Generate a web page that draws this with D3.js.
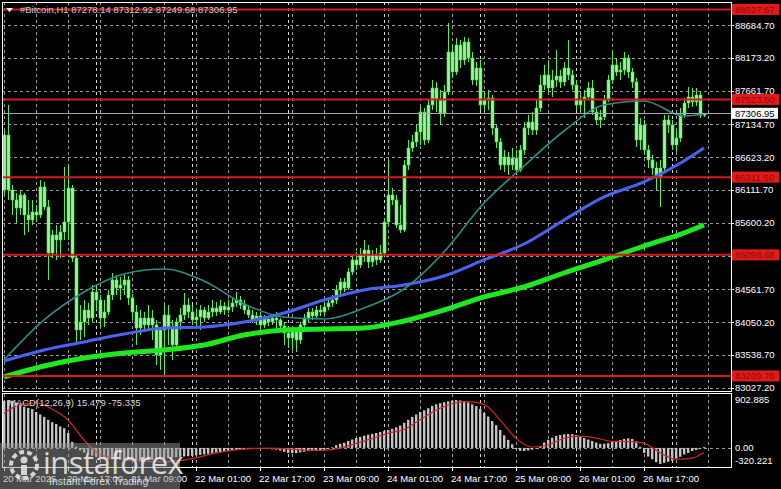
<!DOCTYPE html>
<html><head><meta charset="utf-8">
<script src="https://cdn.jsdelivr.net/npm/d3@7"></script>
<style>html,body{margin:0;padding:0;background:#000;overflow:hidden}svg{display:block}</style>
</head><body>
<svg id="c" width="781" height="489"></svg>
<script>
// ---------- DATA ----------
const chartTitle = "#Bitcoin,H1  87278.14 87312.92 87249.68 87306.95";
const macdTitle = "MACD(12,26,9) 15.479 -75.335";

const opens = [86111,86969,86111,85955,85830,86033,85721,85643,85768,85721,
86158,85846,85128,85409,85331,85456,85612,86142,85050,83927,
84052,84239,84114,84520,84395,84114,84208,84473,84707,84582,
84629,84707,84426,84208,83958,84114,84005,84114,84005,83537,
83927,84161,83974,83693,84052,84161,84317,84208,84083,84130,
84239,84114,84208,84270,84208,84301,84239,84286,84348,84395,
84317,84239,84161,84083,84145,84005,84099,84052,84114,84083,
83989,83880,83802,83896,83771,84005,84114,84208,84145,84239,
84208,84286,84348,84395,84551,84676,84582,84832,85019,84941,
85097,85175,84988,85097,85019,85128,85612,86033,85955,85565,
85487,86501,86766,86860,87016,87328,86891,87437,87702,87515,
87312,87640,88264,87952,88373,88139,88420,88170,87827,88014,
87437,87515,87546,87078,86860,86501,86626,86501,86610,86423,
86735,87078,87172,87047,87390,87749,87905,87702,87827,87889,
87796,88014,87905,87749,87437,87515,87562,87702,87328,87203,
87250,87515,87827,88061,87952,87983,88170,87952,87796,86891,
87125,86735,86579,86454,86298,86454,87203,87125,86813,86922,
87281,87468,87562,87484,87593,87278.14];

const closes = [86969,86111,85955,85830,86033,85721,85643,85768,85721,86158,
85846,85128,85409,85331,85456,85612,86142,85050,83927,84052,
84239,84114,84520,84395,84114,84208,84473,84707,84582,84629,
84707,84426,84208,83958,84114,84005,84114,84005,83537,83927,
84161,83974,83693,84052,84161,84317,84208,84083,84130,84239,
84114,84208,84270,84208,84301,84239,84286,84348,84395,84317,
84239,84161,84083,84145,84005,84099,84052,84114,84083,83989,
83880,83802,83896,83771,84005,84114,84208,84145,84239,84208,
84286,84348,84395,84551,84676,84582,84832,85019,84941,85097,
85175,84988,85097,85019,85128,85612,86033,85955,85565,85487,
86501,86766,86860,87016,87328,86891,87437,87702,87515,87312,
87640,88264,87952,88373,88139,88420,88170,87827,88014,87437,
87515,87546,87078,86860,86501,86626,86501,86610,86423,86735,
87078,87172,87047,87390,87749,87905,87702,87827,87889,87796,
88014,87905,87749,87437,87515,87562,87702,87328,87203,87250,
87515,87827,88061,87952,87983,88170,87952,87796,86891,87125,
86735,86579,86454,86298,86454,87203,87125,86813,86922,87281,
87468,87562,87484,87593,87278,87306.95];

const highs = [87047,87437,86189,86064,86111,86064,85955,85955,85877,86267,
86236,85955,85487,85565,85565,86470,86501,86189,85097,84317,
84395,84348,84629,84598,84473,84395,84551,84816,84785,84754,
84785,84769,84489,84317,84239,84208,84317,84239,84083,83958,
84317,84317,84083,84114,84270,84504,84426,84317,84239,84317,
84286,84317,84395,84364,84395,84364,84395,84426,84520,84457,
84395,84317,84239,84208,84208,84161,84145,84177,84208,84114,
84052,83958,83989,83958,84052,84177,84270,84270,84301,84317,
84364,84426,84473,84629,84738,84738,84894,85097,85144,85206,
85331,85253,85175,85206,85253,85674,86579,86142,86033,85877,
86579,86891,86969,87125,87437,87390,87515,87827,87796,87671,
87749,88716,88373,88482,88451,88498,88482,88264,88108,88139,
87640,87671,87593,87125,86922,86735,86704,86766,86735,86813,
87172,87281,87328,87515,87905,88061,88139,87983,88295,87983,
88108,88451,87983,87827,87593,87671,87796,87827,87390,87359,
87593,87905,88295,88170,88108,88264,88217,88014,87858,87234,
87203,86813,86657,86548,86579,87281,87281,87203,87047,87390,
87546,87718,87702,87702,87640,87312.92];

const lows = [86033,85955,85721,85596,85721,85409,85456,85565,85612,85674,
85799,84707,85050,85019,85050,85331,85331,84988,83740,83771,
83818,84005,84052,84239,83958,83974,84161,84395,84473,84395,
84473,84317,84083,83693,83849,83896,83927,83771,83381,83303,
83225,83693,83459,83615,83927,84083,84114,84005,83989,83927,
84052,84083,84130,84145,84177,84161,84192,84208,84286,84255,
84177,84114,84036,84005,83927,83958,83989,84005,83958,83927,
83693,83646,83615,83584,83709,83958,84052,84083,84114,84145,
84161,84239,84286,84333,84473,84520,84551,84785,84863,84894,
84988,84894,84910,84941,84972,85081,85565,85877,85518,85440,
85456,86423,86704,86782,86813,86813,86844,87359,87328,87125,
87250,87593,87858,87905,88014,88061,88108,87749,87733,87359,
87328,87359,86969,86766,86423,86392,86345,86423,86345,86392,
86657,86969,86969,86969,87328,87671,87640,87562,87718,87702,
87733,87827,87671,87359,87328,87234,87515,87281,87125,87078,
87203,87484,87765,87889,87827,87905,87858,87702,86782,86735,
86657,86454,86345,86111,85846,86392,87000,86735,86704,86860,
87234,87390,87406,87421,87234,87249.68];

// moving averages, read at sampled bars
const maBars = [0,10,20,30,40,50,60,70,80,90,100,110,120,130,140,150,160,170,175];
const maFast = [83459,84083,84520,84800,84878,84691,84333,84130,84099,84270,84566,85144,85908,86485,87031,87437,87499,87265,87296];
const maMid  = [83443,83615,83740,83864,83958,83974,84052,84192,84395,84551,84629,84769,85019,85268,85643,86002,86236,86564,86766];
const maSlow = [83194,83365,83490,83568,83615,83693,83849,83927,83942,83958,84067,84239,84442,84598,84816,85019,85237,85440,85565];

// MACD histogram (one per bar) and signal line (sampled)
const macdHist = [790,800,790,760,720,690,670,650,600,560,
520,470,430,400,360,330,250,100,20,-40,
-80,-110,-130,-150,-165,-175,-185,-190,-195,-200,
-205,-210,-210,-215,-215,-210,-205,-200,-195,-190,
-180,-170,-160,-155,-150,-145,-140,-135,-125,-118,
-110,-100,-90,-80,-75,-65,-55,-45,-35,-30,
-25,-20,-18,-15,-15,-18,-20,-25,-30,-45,
-65,-85,-90,-88,-75,-65,-55,-50,-45,-38,
-30,-15,10,45,70,85,115,140,165,185,
205,220,235,250,265,280,300,320,345,375,
420,470,520,560,600,630,665,705,730,748,
765,780,793,800,795,785,760,730,700,650,
590,525,450,380,300,210,135,60,-20,-50,
-52,-45,-30,-10,35,90,135,170,200,215,
228,233,230,215,190,165,140,115,90,68,
70,80,100,118,132,150,160,150,110,20,
-85,-145,-190,-240,-268,-250,-232,-215,-180,-150,
-110,-85,-55,-35,-12,15.479];
const signalBars = [0,4,8,12,16,20,24,28,32,36,40,44,48,52,56,60,64,68,72,76,80,84,88,92,96,100,104,108,112,116,120,124,128,132,136,140,144,148,152,156,160,164,168,172,175];
const signalValues = [580,725,755,650,467,132,-110,-170,-210,-228,-232,-215,-165,-100,-50,-20,-8,-8,-22,-40,-40,-5,75,155,245,310,470,630,740,775,730,470,160,15,49,161,198,165,110,104,77,-80,-190,-170,-75.335];

// axes
const priceTicks = [88684.70,88173.20,87661.70,87134.70,86623.20,86111.70,85600.20,85088.70,84561.70,84050.20,83538.70,83027.20];
const priceTickLabels = ["88684.70","88173.20","87661.70","87134.70","86623.20","86111.70","85600.20","85088.70","84561.70","84050.20","83538.70","83027.20"];
const levels = [88927.67,87523.50,86311.50,85098.68,83209.76];
const levelLabels = ["88927.67","87523.50","86311.50","85098.68","83209.76"];
const currentPrice = 87306.95;
const macdTicks = [902.885,0,-320.221];
const macdTickLabels = ["902.885","0.00","-320.221"];
const timeTickBars = [0,16,32,48,64,80,96,112,128,144,160];
const timeLabels = ["20 Mar 2025","20 Mar 17:00","21 Mar 09:00","22 Mar 01:00","22 Mar 17:00","23 Mar 09:00","24 Mar 01:00","24 Mar 17:00","25 Mar 09:00","26 Mar 01:00","26 Mar 17:00"];
const gridBars = [0,8,16,24,32,40,48,56,64,72,80,88,96,104,112,120,128,136,144,152,160,168,176];
const daySeparatorBars = [23,47,71,95,119,143,167];

// ---------- DRAW ----------
const svg = d3.select("#c");
const W = 781, H = 489;
const L = 2, R = 731, mainTop = 2, mainBot = 391, mTop = 394, mBot = 467;
const FONT = "Liberation Sans, Arial, sans-serif";

svg.append("rect").attr("width", W).attr("height", H).attr("fill", "#000");

const x = d3.scaleLinear().domain([0, 175]).range([4, 704]);
const y = d3.scaleLinear().domain([82975.1, 89043.5]).range([mainBot, mainTop]);
const ym = d3.scaleLinear().domain([-320.221, 902.885]).range([mBot, mTop]);

const defs = svg.append("defs");
defs.append("clipPath").attr("id", "cm").append("rect").attr("x", L).attr("y", mainTop).attr("width", R - L).attr("height", mainBot - mainTop);
defs.append("clipPath").attr("id", "cd").append("rect").attr("x", L).attr("y", mTop - 1).attr("width", R - L).attr("height", mBot - mTop + 2);

const gridCol = "#9a9a9a", dash = "3,3";
const main = svg.append("g").attr("clip-path", "url(#cm)");
const macd = svg.append("g").attr("clip-path", "url(#cd)");

// horizontal grid
main.selectAll("line.hg").data(priceTicks).join("line")
  .attr("x1", L).attr("x2", R).attr("y1", d => Math.round(y(d)) + 0.5).attr("y2", d => Math.round(y(d)) + 0.5)
  .attr("stroke", gridCol).attr("stroke-dasharray", dash).attr("stroke-width", 1);
// vertical grid & separators (both panes)
[main, macd].forEach((g, k) => {
  const y1 = k ? mTop : mainTop, y2 = k ? mBot : mainBot;
  g.selectAll("line.vg").data(gridBars).join("line")
    .attr("x1", d => Math.round(x(d)) + 0.5).attr("x2", d => Math.round(x(d)) + 0.5)
    .attr("y1", y1).attr("y2", y2).attr("stroke", gridCol).attr("stroke-dasharray", dash);
  g.selectAll("line.ds").data(daySeparatorBars).join("line")
    .attr("x1", d => Math.round(x(d)) + 0.5).attr("x2", d => Math.round(x(d)) + 0.5)
    .attr("y1", y1).attr("y2", y2).attr("stroke", "#d8d8d8").attr("stroke-dasharray", dash);
});

// candles
const idx = d3.range(closes.length);
main.append("g").selectAll("line").data(idx).join("line")
  .attr("x1", i => Math.round(x(i)) + 0.5).attr("x2", i => Math.round(x(i)) + 0.5)
  .attr("y1", i => y(highs[i])).attr("y2", i => y(lows[i]))
  .attr("stroke", "#62e462").attr("stroke-width", 1);
main.append("g").selectAll("rect").data(idx).join("rect")
  .attr("x", i => Math.round(x(i)) - 1).attr("width", 3)
  .attr("y", i => y(Math.max(opens[i], closes[i])))
  .attr("height", i => Math.max(1, Math.abs(y(opens[i]) - y(closes[i]))))
  .attr("fill", "#9af59a").attr("stroke", "#4ed64e").attr("stroke-width", 0.6);

// moving averages
const maLine = d3.line().x(d => x(d[0])).y(d => y(d[1])).curve(d3.curveMonotoneX);
main.append("path").datum(maBars.map((b, i) => [b, maSlow[i]])).attr("d", maLine)
  .attr("fill", "none").attr("stroke", "#1ee81e").attr("stroke-width", 5);
main.append("path").datum(maBars.map((b, i) => [b, maMid[i]])).attr("d", maLine)
  .attr("fill", "none").attr("stroke", "#4a62ee").attr("stroke-width", 3);
main.append("path").datum(maBars.map((b, i) => [b, maFast[i]])).attr("d", maLine)
  .attr("fill", "none").attr("stroke", "#2c8c88").attr("stroke-width", 1.6);

// current price line
main.append("line").attr("x1", L).attr("x2", R)
  .attr("y1", Math.round(y(currentPrice)) + 0.5).attr("y2", Math.round(y(currentPrice)) + 0.5)
  .attr("stroke", "#a8a8a8").attr("stroke-width", 1);

// level lines
main.selectAll("line.lv").data(levels).join("line")
  .attr("x1", L).attr("x2", R).attr("y1", d => y(d)).attr("y2", d => y(d))
  .attr("stroke", "#d41c1c").attr("stroke-width", 2);

// MACD
macd.append("line").attr("x1", L).attr("x2", R).attr("y1", Math.round(ym(0)) + 0.5).attr("y2", Math.round(ym(0)) + 0.5)
  .attr("stroke", gridCol).attr("stroke-dasharray", dash);
macd.append("g").selectAll("rect").data(idx).join("rect")
  .attr("x", i => Math.round(x(i)) - 1).attr("width", 2.4)
  .attr("y", i => Math.min(ym(0), ym(macdHist[i])))
  .attr("height", i => Math.abs(ym(macdHist[i]) - ym(0)))
  .attr("fill", "#c4c4c4");
macd.append("path").datum(signalBars.map((b, i) => [b, signalValues[i]]))
  .attr("d", d3.line().x(d => x(d[0])).y(d => ym(d[1])).curve(d3.curveMonotoneX))
  .attr("fill", "none").attr("stroke", "#d2262a").attr("stroke-width", 1.2);

// frames
svg.append("rect").attr("x", L + 0.5).attr("y", mainTop + 0.5).attr("width", R - L).attr("height", mainBot - mainTop)
  .attr("fill", "none").attr("stroke", "#ffffff");
svg.append("rect").attr("x", L + 0.5).attr("y", mTop - 0.5).attr("width", R - L).attr("height", mBot - mTop + 1)
  .attr("fill", "none").attr("stroke", "#ffffff");

// price axis
const ax = svg.append("g").attr("font-family", FONT).attr("font-size", 9.5).attr("fill", "#fff");
ax.selectAll("text.p").data(priceTicks).join("text")
  .attr("x", 735).attr("y", d => y(d) + 3.5).text((d, i) => priceTickLabels[i]);
svg.selectAll("line.tk").data(priceTicks).join("line")
  .attr("x1", R).attr("x2", R + 3).attr("y1", d => Math.round(y(d)) + 0.5).attr("y2", d => Math.round(y(d)) + 0.5).attr("stroke", "#fff");

// level tags
const tags = svg.append("g").attr("font-family", FONT).attr("font-size", 9.5);
levels.forEach((v, i) => {
  tags.append("rect").attr("x", 732).attr("y", y(v) - 5.5).attr("width", 47).attr("height", 11).attr("fill", "#e21a1a");
  tags.append("text").attr("x", 735).attr("y", y(v) + 3.5).attr("fill", "#8a0a0a").text(levelLabels[i]);
});
tags.append("rect").attr("x", 732).attr("y", y(currentPrice) - 5.5).attr("width", 46).attr("height", 11).attr("fill", "#fff");
tags.append("text").attr("x", 735).attr("y", y(currentPrice) + 3.5).attr("fill", "#000").text(d3.format(".2f")(currentPrice));

// macd axis
ax.selectAll("text.m").data(macdTicks).join("text")
  .attr("x", 735).attr("y", (d, i) => i === 0 ? ym(d) + 9 : (i === 2 ? ym(d) - 3 : ym(d) + 3.5))
  .text((d, i) => macdTickLabels[i]);

// time axis
const tx = svg.append("g").attr("font-family", FONT).attr("font-size", 9.5).attr("fill", "#fff");
tx.selectAll("text").data(timeTickBars).join("text")
  .attr("x", d => x(d) - 1).attr("y", 482).text((d, i) => timeLabels[i]);
svg.selectAll("line.tt").data(timeTickBars).join("line")
  .attr("x1", d => Math.round(x(d)) + 0.5).attr("x2", d => Math.round(x(d)) + 0.5)
  .attr("y1", mBot + 1).attr("y2", mBot + 4).attr("stroke", "#fff");

// titles
svg.append("path").attr("d", "M6,8 L13,8 L9.5,12 Z").attr("fill", "#fff");
svg.append("text").attr("x", 20).attr("y", 13).attr("font-family", FONT).attr("font-size", 9.5)
  .attr("fill", "#c8c8c8").text(chartTitle);
svg.append("text").attr("x", 8).attr("y", 406).attr("font-family", FONT).attr("font-size", 9.5)
  .attr("fill", "#d8d8d8").text(macdTitle);

// watermark
const wm = svg.append("g");
wm.append("rect").attr("x", 0).attr("y", 443).attr("width", 180).attr("height", 46).attr("fill", "rgba(150,150,150,0.5)");
const ic = wm.append("g").attr("fill", "none").attr("stroke", "rgba(235,235,235,0.85)");
ic.append("circle").attr("cx", 24).attr("cy", 465).attr("r", 13).attr("stroke-width", 4).attr("stroke-dasharray", "5,3");
ic.append("circle").attr("cx", 24).attr("cy", 460).attr("r", 3.5).attr("fill", "rgba(235,235,235,0.85)").attr("stroke", "none");
ic.append("rect").attr("x", 21).attr("y", 465).attr("width", 6).attr("height", 10).attr("fill", "rgba(235,235,235,0.85)").attr("stroke", "none");
wm.append("text").attr("x", 43).attr("y", 474).attr("font-family", "Open Sans, Liberation Sans, sans-serif")
  .attr("font-size", 31).attr("fill", "rgba(240,240,240,0.85)").attr("letter-spacing", -0.5).text("instaforex");
wm.append("text").attr("x", 49).attr("y", 485).attr("font-family", FONT)
  .attr("font-size", 10.5).attr("fill", "rgba(240,240,240,0.85)").text("Instant Forex Trading");
</script>
</body></html>
